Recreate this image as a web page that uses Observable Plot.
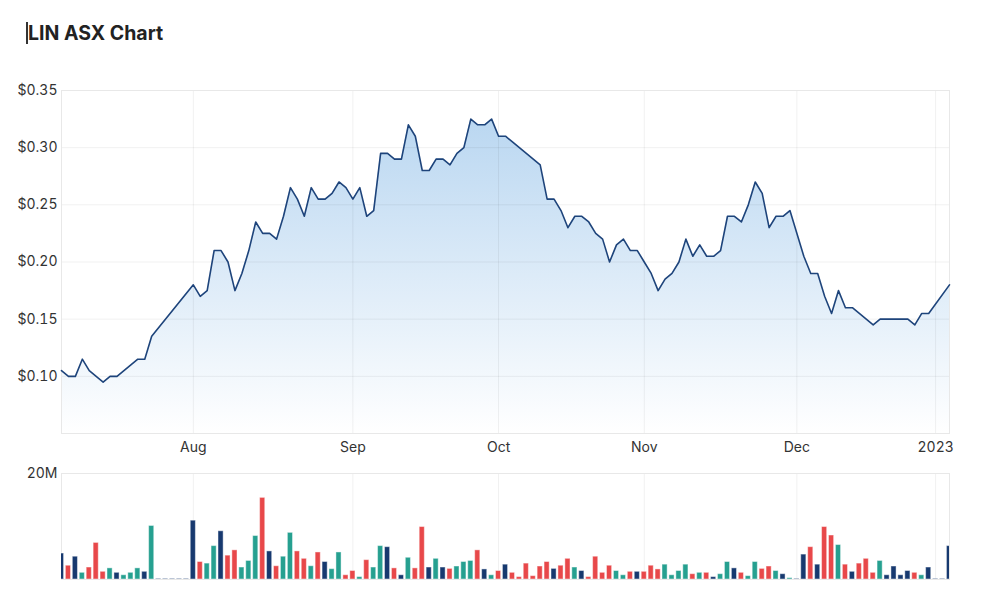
<!DOCTYPE html>
<html>
<head>
<meta charset="utf-8">
<script src="https://cdn.jsdelivr.net/npm/d3@7"></script>
<script src="https://cdn.jsdelivr.net/npm/@observablehq/plot@0.6"></script>
<style>
  html, body { margin: 0; padding: 0; background: #fff; }
  #wrap { position: relative; width: 1000px; height: 607px; font-family: Inter, "Open Sans", sans-serif; }
  #title { position: absolute; left: 26px; top: 22px; font-size: 19.5px; font-weight: 700; color: #222; border-left: 2px solid #333; line-height: 22px; }
  #price { position: absolute; left: 0; top: 60px; }
  #volume { position: absolute; left: 0; top: 460px; }
</style>
</head>
<body>
<div id="wrap">
  <div id="title">LIN ASX Chart</div>
  <div id="price"></div>
  <div id="volume"></div>
</div>
<script>
// ---- data (daily closes in $, null = no trades that day) ----
const firstDay = "2022-07-05";
const holidays = ["2022-09-22", "2022-12-26", "2022-12-27", "2023-01-02"];

const prices = [
  0.105, 0.10, 0.10, 0.115, 0.105, 0.10, 0.095, 0.10, 0.10, 0.105,
  0.11, 0.115, 0.115, 0.135, null, null, null, null, null, 0.18,
  0.17, 0.175, 0.21, 0.21, 0.20, 0.175, 0.19, 0.21, 0.235, 0.225,
  0.225, 0.22, 0.24, 0.265, 0.255, 0.24, 0.265, 0.255, 0.255, 0.26,
  0.27, 0.265, 0.255, 0.265, 0.24, 0.245, 0.295, 0.295, 0.29, 0.29,
  0.32, 0.31, 0.28, 0.28, 0.29, 0.29, 0.285, 0.295, 0.30, 0.325,
  0.32, 0.32, 0.325, 0.31, 0.31, 0.305, 0.30, 0.295, 0.29, 0.285,
  0.255, 0.255, 0.245, 0.23, 0.24, 0.24, 0.235, 0.225, 0.22, 0.20,
  0.215, 0.22, 0.21, 0.21, 0.20, 0.19, 0.175, 0.185, 0.19, 0.20,
  0.22, 0.205, 0.215, 0.205, 0.205, 0.21, 0.24, 0.24, 0.235, 0.25,
  0.27, 0.26, 0.23, 0.24, 0.24, 0.245, null, 0.205, 0.19, 0.19,
  0.17, 0.155, 0.175, 0.16, 0.16, 0.155, 0.15, 0.145, 0.15, 0.15,
  0.15, 0.15, 0.15, 0.145, 0.155, 0.155, null, null, 0.18
];

// volume in millions of shares
const volumes = [
  4.9, 2.6, 4.3, 1.26, 2.26, 6.9, 1.45, 2.1, 1.26, 0.8,
  1.26, 2.1, 1.45, 10.1, 0.1, 0.1, 0.1, 0.1, 0.1, 11.1,
  3.3, 3.0, 6.3, 9.1, 4.5, 5.5, 2.26, 3.5, 8.2, 15.4,
  5.3, 2.5, 4.3, 8.8, 5.3, 3.9, 2.5, 5.1, 3.3, 1.95,
  5.1, 0.8, 1.6, 0.45, 3.65, 2.26, 6.3, 6.1, 2.1, 0.8,
  4.1, 2.1, 9.9, 2.26, 3.9, 2.26, 2.0, 2.45, 3.3, 3.5,
  5.5, 1.9, 0.8, 1.6, 2.8, 1.26, 0.45, 3.0, 0.63, 2.45,
  3.3, 2.0, 2.6, 3.9, 2.26, 1.6, 0.45, 4.3, 1.26, 2.6,
  1.6, 0.8, 1.45, 1.45, 1.45, 2.6, 1.9, 2.8, 0.8, 1.6,
  2.8, 1.0, 1.26, 1.26, 0.45, 1.0, 3.3, 2.1, 1.26, 0.63,
  3.3, 2.0, 2.45, 1.6, 1.0, 0.25, 0.1, 4.7, 6.1, 2.8,
  9.9, 8.3, 6.5, 2.8, 1.45, 3.0, 3.9, 1.26, 3.5, 0.8,
  2.45, 0.8, 1.6, 1.26, 0.8, 2.26, 0.1, 0.1, 6.3
];

// u = up day, d = down day, f = unchanged
const moves = [
  "f","d","f","u","d","d","d","u","f","u",
  "u","u","f","u","f","f","f","f","f","f",
  "d","u","u","f","d","d","u","u","u","d",
  "f","d","u","u","d","d","u","d","f","u",
  "u","d","d","u","d","u","u","f","d","f",
  "u","d","d","f","u","f","d","u","u","u",
  "d","f","u","d","f","d","d","d","d","d",
  "d","f","d","d","u","f","d","d","d","d",
  "u","u","d","f","d","d","d","u","u","u",
  "u","d","u","d","f","u","u","f","d","u",
  "u","d","d","u","f","u","f","f","d","f",
  "d","d","u","d","f","d","d","d","u","f",
  "f","f","f","d","u","f","f","f","f"
];

const yTicks = [0.10, 0.15, 0.20, 0.25, 0.30, 0.35];
const volTicks = [20];

// ---- trading calendar ----
const fmtKey = d3.timeFormat("%Y-%m-%d");
const dates = [];
{
  const d = d3.timeParse("%Y-%m-%d")(firstDay);
  while (dates.length < prices.length) {
    const wd = d.getDay();
    if (wd !== 0 && wd !== 6 && !holidays.includes(fmtKey(d))) dates.push(new Date(d));
    d.setDate(d.getDate() + 1);
  }
}
const monthStarts = dates.map((d, i) => i).filter(i => i > 0 && dates[i].getMonth() !== dates[i - 1].getMonth());
const monthLabel = i => dates[i].getMonth() === 0 ? d3.timeFormat("%Y")(dates[i]) : d3.timeFormat("%b")(dates[i]);

const rows = prices.map((p, i) => ({ i, date: dates[i], price: p, volume: volumes[i] * 1e6, move: moves[i] }));
const traded = rows.filter(r => r.price != null);
const n = prices.length;

const colors = { u: "#26a090", d: "#e8484a", f: "#17396f" };
const gridColor = "rgba(0,0,0,0.06)";
const width = 1000, mLeft = 61, mRight = 51;
const style = { fontFamily: "Inter, 'Open Sans', sans-serif", fontSize: "14px", color: "#333", background: "transparent", overflow: "visible" };

const defs = () => {
  const g = d3.create("svg:defs");
  const lg = g.append("linearGradient").attr("id", "lingrad").attr("x1", 0).attr("y1", 0).attr("x2", 0).attr("y2", 1);
  lg.append("stop").attr("offset", "0%").attr("stop-color", "#bad7f1");
  lg.append("stop").attr("offset", "100%").attr("stop-color", "#ffffff");
  return g.node();
};

const pricePlot = Plot.plot({
  width, height: 400,
  marginLeft: mLeft, marginRight: mRight, marginTop: 30, marginBottom: 27,
  style,
  x: { domain: [0, n - 1], ticks: monthStarts, tickFormat: monthLabel, tickSize: 0, tickPadding: 9, label: null },
  y: { domain: [0.05, 0.35], ticks: yTicks, tickFormat: d => "$" + d.toFixed(2), tickSize: 0, tickPadding: 4, label: null },
  marks: [
    defs,
    Plot.areaY(traded, { x: "i", y1: 0.05, y2: "price", fill: "url(#lingrad)" }),
    Plot.ruleY(yTicks, { stroke: gridColor }),
    Plot.ruleX(monthStarts, { stroke: gridColor }),
    Plot.frame({ stroke: "#e8e8e8" }),
    Plot.lineY(traded, { x: "i", y: "price", stroke: "#1e447b", strokeWidth: 1.6 })
  ]
});
document.getElementById("price").append(pricePlot);

const volPlot = Plot.plot({
  width, height: 130,
  marginLeft: mLeft, marginRight: mRight, marginTop: 13, marginBottom: 11,
  style,
  x: { domain: [0, n - 1], axis: null },
  y: { domain: [0, 20e6], ticks: volTicks.map(v => v * 1e6), tickFormat: d => d / 1e6 + "M", tickSize: 0, tickPadding: 4, label: null },
  marks: [
    Plot.ruleX(monthStarts, { stroke: gridColor }),
    Plot.frame({ stroke: "#e8e8e8" }),
    Plot.rectY(rows, { x1: d => d.i - 0.37, x2: d => d.i + 0.37, y: "volume", fill: d => colors[d.move], stroke: "#ffffff", strokeOpacity: 0.45, strokeWidth: 1, clip: true })
  ]
});
document.getElementById("volume").append(volPlot);
</script>
</body>
</html>
